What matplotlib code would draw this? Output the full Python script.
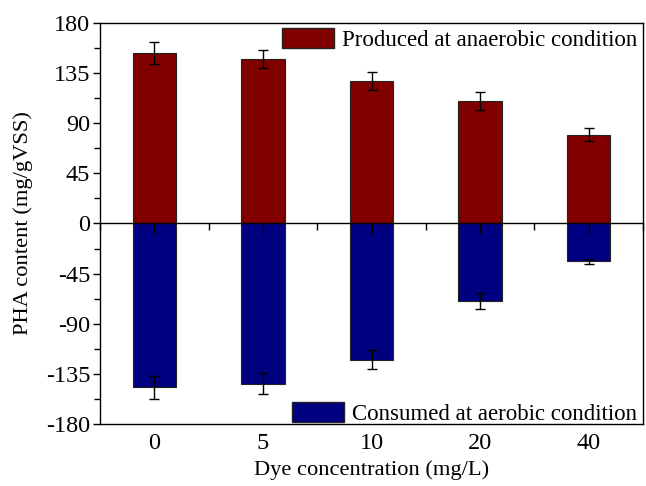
import matplotlib
matplotlib.use("Agg")
import matplotlib.pyplot as plt
import numpy as np
from matplotlib.ticker import FixedLocator, MultipleLocator
from matplotlib.patches import Patch

# dye concentration groups (mg/L)
categories = ["0", "5", "10", "20", "40"]

# PHA produced under anaerobic condition (mg/gVSS)
produced = [153, 147.5, 128, 110, 79.5]
produced_err = [9.6, 8.4, 7.9, 8.2, 5.8]

# PHA consumed under aerobic condition (mg/gVSS), plotted as negative
consumed = [-147, -143.5, -122, -69.5, -34]
consumed_err = [10, 9.5, 8.4, 7.5, 2.4]

yticks = [-180, -135, -90, -45, 0, 45, 90, 135, 180]

FS = 16.5
plt.rcParams["font.family"] = ["Liberation Serif", "DejaVu Serif"]
plt.rcParams["font.size"] = FS
plt.rcParams["axes.unicode_minus"] = False

fig = plt.figure(figsize=(6.46, 4.86), dpi=100)
ax = fig.add_axes([0.1548, 0.127, 0.8406, 0.8263])

x = np.arange(len(categories))
width = 0.4
err_kw = dict(ecolor="black", elinewidth=1.0, capsize=3.6, capthick=1.0)

ax.bar(x, produced, width, yerr=produced_err, color="#800000",
       edgecolor="#222222", linewidth=0.8, error_kw=err_kw)
ax.bar(x, consumed, width, yerr=consumed_err, color="#000080",
       edgecolor="#222222", linewidth=0.8, error_kw=err_kw)

ax.set_xlim(-0.5, len(categories) - 0.5)
ax.set_ylim(-180, 180)

# y axis: outward ticks with minor ticks between
ax.set_yticks(yticks)
ax.yaxis.set_minor_locator(MultipleLocator(22.5))
ax.tick_params(axis="y", which="major", direction="out", length=5, width=1,
               labelsize=FS + 1, pad=2, right=False)
ax.tick_params(axis="y", which="minor", direction="out", length=4, width=1,
               right=False)

# x axis line through zero, ticks only
ax.spines["bottom"].set_position(("data", 0))
ax.set_xticks(x)
ax.xaxis.set_minor_locator(FixedLocator(np.arange(-0.5, len(categories), 1.0)))
ax.tick_params(axis="x", which="major", direction="out", length=8, width=1,
               labelbottom=False, top=False)
ax.tick_params(axis="x", which="minor", direction="out", length=5, width=1,
               top=False)
for side in ["left", "right", "top", "bottom"]:
    ax.spines[side].set_linewidth(1.0)

# bottom frame edge holds the category labels
sec = ax.secondary_xaxis("bottom")
sec.set_xticks(x, categories)
sec.tick_params(axis="x", which="both", length=0, labelsize=FS + 1, pad=6)
sec.xaxis.set_minor_locator(FixedLocator([]))
sec.spines["bottom"].set_linewidth(1.0)
sec.set_xlabel("Dye concentration (mg/L)", fontsize=16.2, labelpad=4.5)

ax.set_ylabel("PHA content (mg/gVSS)", fontsize=16.2, labelpad=9)

leg_kw = dict(frameon=False, fontsize=FS, handlelength=2.25, handleheight=0.95,
              handletextpad=0.35, borderpad=0.0)
leg1 = ax.legend(handles=[Patch(facecolor="#800000", edgecolor="#222222",
                                label="Produced at anaerobic condition")],
                 loc="upper right", bbox_to_anchor=(1.01, 1.015), **leg_kw)
ax.add_artist(leg1)
ax.legend(handles=[Patch(facecolor="#000080", edgecolor="#222222",
                         label="Consumed at aerobic condition")],
          loc="lower right", bbox_to_anchor=(1.01, -0.03), **leg_kw)

fig.savefig("out.png", dpi=100)
